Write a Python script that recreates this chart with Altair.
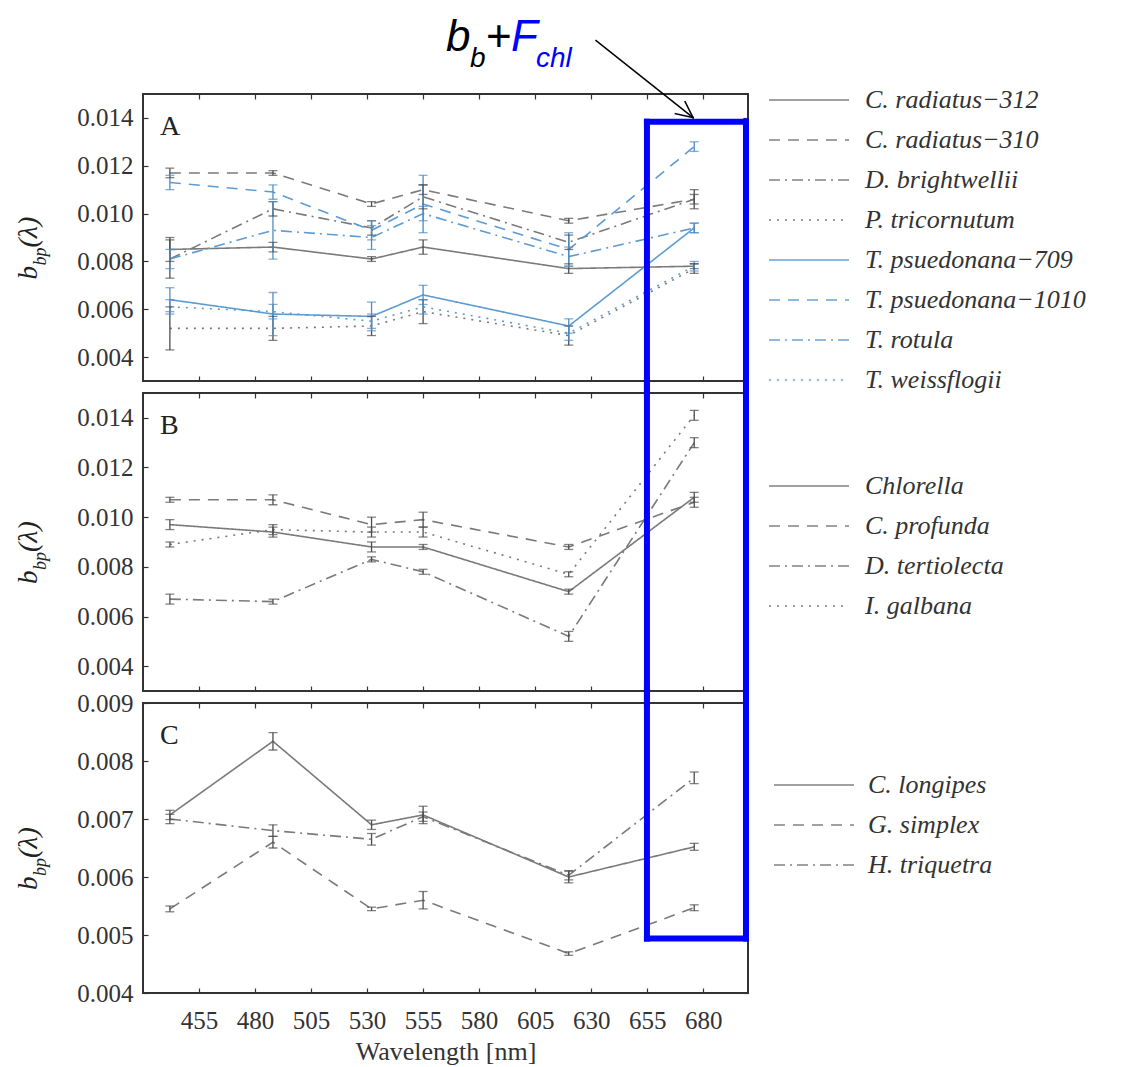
import altair as alt
import pandas as pd

# ---------------- data ----------------
WAVELENGTHS = [442, 488, 532, 555, 620, 676]
X_TICKS = [455, 480, 505, 530, 555, 580, 605, 630, 655, 680]
X_DOMAIN = [430, 700]

# Panel A
A_NAMES = ["C. radiatus\u2212312", "C. radiatus\u2212310", "D. brightwellii", "P. tricornutum",
           "T. psuedonana\u2212709", "T. psuedonana\u22121010", "T. rotula", "T. weissflogii"]
A_C_RADIATUS_312 = [0.0085, 0.0086, 0.0081, 0.0086, 0.0077, 0.0078]
A_C_RADIATUS_310 = [0.0117, 0.0117, 0.0104, 0.0110, 0.0097, 0.0106]
A_D_BRIGHTWELLII = [0.0081, 0.0102, 0.0094, 0.0107, 0.0088, 0.0106]
A_P_TRICORNUTUM = [0.0052, 0.0052, 0.0053, 0.0059, 0.0049, 0.0077]
A_T_PSUEDONANA_709 = [0.0064, 0.0058, 0.0057, 0.0066, 0.0053, 0.0094]
A_T_PSUEDONANA_1010 = [0.0113, 0.0109, 0.0093, 0.0104, 0.0085, 0.0128]
A_T_ROTULA = [0.0081, 0.0093, 0.0090, 0.0100, 0.0082, 0.0094]
A_T_WEISSFLOGII = [0.0061, 0.0059, 0.0055, 0.0061, 0.0050, 0.0078]

A_ERR_C_RADIATUS_312 = [0.0005, 0.0002, 0.0001, 0.0003, 0.0002, 0.0001]
A_ERR_C_RADIATUS_310 = [0.0002, 0.0001, 0.0001, 0.0002, 0.0001, 0.0002]
A_ERR_D_BRIGHTWELLII = [0.0008, 0.0003, 0.0003, 0.0005, 0.0003, 0.0004]
A_ERR_P_TRICORNUTUM = [0.0009, 0.0005, 0.0004, 0.0005, 0.0004, 0.0002]
A_ERR_T_PSUEDONANA_709 = [0.0005, 0.0009, 0.0006, 0.0004, 0.0003, 0.0002]
A_ERR_T_PSUEDONANA_1010 = [0.0003, 0.0003, 0.0004, 0.0012, 0.0007, 0.0002]
A_ERR_T_ROTULA = [0.0004, 0.0012, 0.0005, 0.0003, 0.0004, 0.0002]
A_ERR_T_WEISSFLOGII = [0.0003, 0.0003, 0.0003, 0.0003, 0.0003, 0.0002]

# Panel B
B_NAMES = ["Chlorella", "C. profunda", "D. tertiolecta", "I. galbana"]
B_CHLORELLA = [0.0097, 0.0094, 0.0088, 0.0088, 0.0070, 0.0108]
B_C_PROFUNDA = [0.0107, 0.0107, 0.0097, 0.0099, 0.0088, 0.0106]
B_D_TERTIOLECTA = [0.0067, 0.0066, 0.0083, 0.0078, 0.0052, 0.0130]
B_I_GALBANA = [0.0089, 0.0095, 0.0094, 0.0094, 0.0077, 0.0141]

B_ERR_CHLORELLA = [0.0002, 0.0002, 0.0002, 0.0001, 0.0001, 0.0002]
B_ERR_C_PROFUNDA = [0.0001, 0.0002, 0.0003, 0.0003, 0.0001, 0.0002]
B_ERR_D_TERTIOLECTA = [0.0002, 0.0001, 0.0001, 0.0001, 0.0002, 0.0002]
B_ERR_I_GALBANA = [0.0001, 0.0002, 0.0002, 0.0002, 0.0001, 0.0002]

# Panel C
C_NAMES = ["C. longipes", "G. simplex", "H. triquetra"]
C_C_LONGIPES = [0.00707, 0.00834, 0.00690, 0.00707, 0.00600, 0.00652]
C_G_SIMPLEX = [0.00545, 0.00660, 0.00545, 0.00560, 0.00468, 0.00547]
C_H_TRIQUETRA = [0.00700, 0.00680, 0.00665, 0.00704, 0.00603, 0.00771]

C_ERR_C_LONGIPES = [0.00008, 0.00015, 0.00008, 0.00015, 0.00010, 0.00006]
C_ERR_G_SIMPLEX = [0.00005, 0.00010, 0.00003, 0.00015, 0.00003, 0.00005]
C_ERR_H_TRIQUETRA = [0.00008, 0.00010, 0.00010, 0.00008, 0.00008, 0.00010]

# annotation (data units of the panels)
BOX_X = [654.9, 699.1]
BOX_TOP_A = 0.01384
BOX_BOTTOM_C = 0.00494
ARROW_START = [632.2, 0.01723]
ARROW_END = [675.5, 0.01401]
ARROW_HEAD_1 = [671.9, 0.01468]
ARROW_HEAD_2 = [667.6, 0.01418]

# ---------------- styling ----------------
GRAY = "#7a7a7a"
BLUE = "#5d9bd3"
EGRAY = "#4d4d4d"
EBLUE = "#4f8cc4"
SOLID = [1, 0]
DASHED = [11, 8]
DASHDOT = [11, 5, 2, 5]
DOTTED = [2, 6]
FONT = "Liberation Serif"
W = 605
HA, HB, HC = 287, 298, 290


def build_df(names, series, errs, ecols):
    rows = []
    for name, vals, es, ec in zip(names, series, errs, ecols):
        for wl, v, e in zip(WAVELENGTHS, vals, es):
            rows.append(dict(species=name, wl=wl, v=v, lo=v - e, hi=v + e, ecol=ec))
    return pd.DataFrame(rows)


ONE = pd.DataFrame({"k": [0]})


def text_at(txt, x, y, size, color="#222222", italic=False, angle=0, font=FONT):
    kw = dict(text=txt, font=font, fontSize=size, color=color, align="left",
              baseline="alphabetic")
    if italic:
        kw["fontStyle"] = "italic"
    if angle:
        kw["angle"] = angle
    return alt.Chart(ONE).mark_text(**kw).encode(x=alt.value(x), y=alt.value(y))


def make_panel(names, series, errs, colors, ecols, dashes, ydom, yticks, h, letter,
               legx, legy, lab_off, show_x_labels, extra=None):
    df = build_df(names, series, errs, ecols)
    caps = pd.concat([df.assign(yc=df["lo"]), df.assign(yc=df["hi"])])
    xs = alt.Scale(domain=X_DOMAIN, nice=False, zero=False)
    ys = alt.Scale(domain=ydom, nice=False, zero=False)
    common = dict(grid=False, domain=False, tickSize=5, offset=-5, tickColor="#333333",
                  tickWidth=1.2, labelFont=FONT, labelFontSize=25, labelColor="#333333")
    x_main = alt.Axis(orient="bottom", values=X_TICKS, labels=show_x_labels,
                      title="Wavelength [nm]" if show_x_labels else None,
                      titleFont=FONT, titleFontSize=26, titleFontWeight="normal",
                      titleColor="#333333", labelPadding=15, titlePadding=5, **common)
    y_main = alt.Axis(orient="left", values=yticks, format=".3f", title=None,
                      labelPadding=10, **common)
    x_top = alt.Axis(orient="top", values=X_TICKS, labels=False, title=None, **common)
    y_right = alt.Axis(orient="right", values=yticks, labels=False, title=None, **common)

    leg = alt.Legend(title=None, orient="none", legendX=legx, legendY=legy,
                     symbolType="M-40,0H40", symbolSize=4, symbolStrokeWidth=2,
                     labelFont=FONT, labelFontStyle="italic", labelFontSize=26,
                     labelColor="#333333", labelOffset=lab_off, rowPadding=14, padding=0,
                     labelLimit=400)
    lines = alt.Chart(df).mark_line(strokeWidth=1.6).encode(
        x=alt.X("wl:Q", scale=xs, axis=x_main),
        y=alt.Y("v:Q", scale=ys, axis=y_main),
        color=alt.Color("species:N", scale=alt.Scale(domain=names, range=colors),
                        legend=leg, sort=names),
        strokeDash=alt.StrokeDash("species:N", scale=alt.Scale(domain=names, range=dashes),
                                  legend=leg, sort=names),
    )
    bars = alt.Chart(df).mark_rule(strokeWidth=1.3).encode(
        x=alt.X("wl:Q", scale=xs, axis=x_top),
        y=alt.Y("lo:Q", scale=ys, axis=y_right),
        y2="hi:Q",
        color=alt.Color("ecol:N", scale=None),
    )
    capmarks = alt.Chart(caps).mark_tick(orient="horizontal", size=9, thickness=1.3).encode(
        x=alt.X("wl:Q", scale=xs, axis=None),
        y=alt.Y("yc:Q", scale=ys, axis=None),
        color=alt.Color("ecol:N", scale=None),
    )
    layers = [lines, bars, capmarks,
              text_at(letter, 17, 41, 28),
              text_at("b", -106, h / 2 + 42, 27, italic=True, angle=270),
              text_at("bp", -97, h / 2 + 28, 18, italic=True, angle=270),
              text_at("(\u03bb)", -106, h / 2 + 10, 28, italic=True, angle=270)]
    if extra:
        layers += extra
    return alt.layer(*layers).resolve_axis(x="independent", y="independent").properties(
        width=W, height=h)


def rule(df_x, df_y, df_x2, df_y2, ydom, color="#0000ff", width=6):
    d = pd.DataFrame({"x": [df_x], "y": [df_y], "x2": [df_x2], "y2": [df_y2]})
    return alt.Chart(d).mark_rule(color=color, strokeWidth=width, strokeCap="square").encode(
        x=alt.X("x:Q", scale=alt.Scale(domain=X_DOMAIN, nice=False, zero=False), axis=None),
        y=alt.Y("y:Q", scale=alt.Scale(domain=ydom, nice=False, zero=False), axis=None),
        x2="x2:Q", y2="y2:Q")


YD_A = [0.003, 0.015]
YD_B = [0.003, 0.015]
YD_C = [0.004, 0.009]
YT_AB = [0.004, 0.006, 0.008, 0.010, 0.012, 0.014]
YT_C = [0.004, 0.005, 0.006, 0.007, 0.008, 0.009]

ext_a = YD_A[0] - 13 / (HA / (YD_A[1] - YD_A[0]))
ext_b_top = YD_B[1] + 13 / (HB / (YD_B[1] - YD_B[0]))
ext_b_bot = YD_B[0] - 13 / (HB / (YD_B[1] - YD_B[0]))
ext_c_top = YD_C[1] + 13 / (HC / (YD_C[1] - YD_C[0]))

extra_a = [
    rule(BOX_X[0], BOX_TOP_A, BOX_X[1], BOX_TOP_A, YD_A),
    rule(BOX_X[0], BOX_TOP_A, BOX_X[0], ext_a, YD_A),
    rule(BOX_X[1], BOX_TOP_A, BOX_X[1], ext_a, YD_A),
    rule(ARROW_START[0], ARROW_START[1], ARROW_END[0], ARROW_END[1], YD_A, "#000000", 1.5),
    rule(ARROW_HEAD_1[0], ARROW_HEAD_1[1], ARROW_END[0], ARROW_END[1], YD_A, "#000000", 1.5),
    rule(ARROW_HEAD_2[0], ARROW_HEAD_2[1], ARROW_END[0], ARROW_END[1], YD_A, "#000000", 1.5),
    text_at("b", 303, -43, 44, "#000000", True, font="Liberation Sans"),
    text_at("b", 327, -27, 28, "#000000", True, font="Liberation Sans"),
    text_at("+", 343, -43, 44, "#000000", False, font="Liberation Sans"),
    text_at("F", 368, -43, 44, "#0000ff", True, font="Liberation Sans"),
    text_at("chl", 393, -27, 28, "#0000ff", True, font="Liberation Sans"),
]
extra_b = [
    rule(BOX_X[0], ext_b_top, BOX_X[0], ext_b_bot, YD_B),
    rule(BOX_X[1], ext_b_top, BOX_X[1], ext_b_bot, YD_B),
]
extra_c = [
    rule(BOX_X[0], ext_c_top, BOX_X[0], BOX_BOTTOM_C, YD_C),
    rule(BOX_X[1], ext_c_top, BOX_X[1], BOX_BOTTOM_C, YD_C),
    rule(BOX_X[0], BOX_BOTTOM_C, BOX_X[1], BOX_BOTTOM_C, YD_C),
]

panel_a = make_panel(
    A_NAMES,
    [A_C_RADIATUS_312, A_C_RADIATUS_310, A_D_BRIGHTWELLII, A_P_TRICORNUTUM,
     A_T_PSUEDONANA_709, A_T_PSUEDONANA_1010, A_T_ROTULA, A_T_WEISSFLOGII],
    [A_ERR_C_RADIATUS_312, A_ERR_C_RADIATUS_310, A_ERR_D_BRIGHTWELLII, A_ERR_P_TRICORNUTUM,
     A_ERR_T_PSUEDONANA_709, A_ERR_T_PSUEDONANA_1010, A_ERR_T_ROTULA, A_ERR_T_WEISSFLOGII],
    [GRAY] * 4 + [BLUE] * 4, [EGRAY] * 4 + [EBLUE] * 4,
    [SOLID, DASHED, DASHDOT, DOTTED] * 2,
    YD_A, YT_AB, HA, "A", 653, -7, 43, False, extra_a)

panel_b = make_panel(
    B_NAMES,
    [B_CHLORELLA, B_C_PROFUNDA, B_D_TERTIOLECTA, B_I_GALBANA],
    [B_ERR_CHLORELLA, B_ERR_C_PROFUNDA, B_ERR_D_TERTIOLECTA, B_ERR_I_GALBANA],
    [GRAY] * 4, [EGRAY] * 4, [SOLID, DASHED, DASHDOT, DOTTED],
    YD_B, YT_AB, HB, "B", 653, 80, 43, False, extra_b)

panel_c = make_panel(
    C_NAMES,
    [C_C_LONGIPES, C_G_SIMPLEX, C_H_TRIQUETRA],
    [C_ERR_C_LONGIPES, C_ERR_G_SIMPLEX, C_ERR_H_TRIQUETRA],
    [GRAY] * 3, [EGRAY] * 3, [SOLID, DASHED, DASHDOT],
    YD_C, YT_C, HC, "C", 658, 69, 41, True, extra_c)

chart = alt.vconcat(panel_a, panel_b, panel_c, spacing=12, bounds="flush").resolve_scale(
    x="independent", y="independent", color="independent", strokeDash="independent"
).properties(
    padding={"left": 6, "top": 7, "right": 5, "bottom": 5}
).configure_view(stroke="#333333", strokeWidth=2)

chart.save("out.html", embed_options={"renderer": "svg", "actions": False})
